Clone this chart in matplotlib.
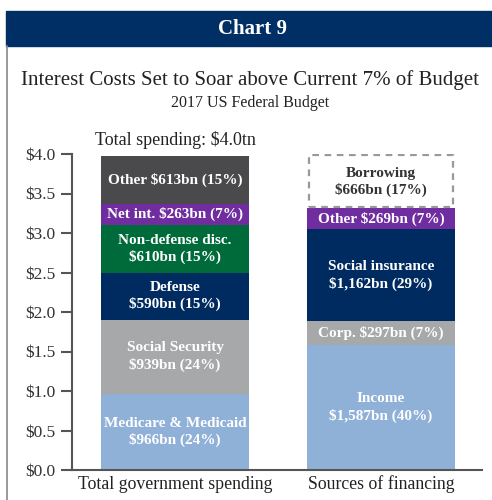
import matplotlib.pyplot as plt
from matplotlib.patches import Rectangle

plt.rcParams['font.family'] = ['Liberation Serif', 'DejaVu Serif']

# spending side, bottom to top ($tn)
spend_labels = ['Medicare & Medicaid\n$966bn (24%)', 'Social Security\n$939bn (24%)',
                'Defense\n$590bn (15%)', 'Non-defense disc.\n$610bn (15%)',
                'Net int. $263bn (7%)', 'Other $613bn (15%)']
spend_vals = [0.966, 0.939, 0.590, 0.610, 0.263, 0.613]
spend_cols = ['#8fb0d7', '#a7a8aa', '#002b60', '#006b3a', '#6f2da0', '#4a4a4c']

# financing side, bottom to top ($tn)
fin_labels = ['Income\n$1,587bn (40%)', 'Corp. $297bn (7%)',
              'Social insurance\n$1,162bn (29%)', 'Other $269bn (7%)']
fin_vals = [1.587, 0.297, 1.162, 0.269]
fin_cols = ['#8fb0d7', '#a7a8aa', '#002b60', '#6f2da0']
borrow_label = 'Borrowing\n$666bn (17%)'
borrow_val = 0.666

categories = ['Total government spending', 'Sources of financing']
yticks = [0, 0.5, 1.0, 1.5, 2.0, 2.5, 3.0, 3.5, 4.0]

fig = plt.figure(figsize=(4.92, 5), dpi=100)

# header band and frame line
fig.patches.append(Rectangle((6/492, 1-46/500), 1, 35/500, transform=fig.transFigure,
                             color='#002f66', zorder=0))
fig.add_artist(plt.Line2D([7/492, 7/492], [0, 1-46/500], transform=fig.transFigure,
                          color='#888888', lw=1.2))
fig.text(252/492, 1-29/500, 'Chart 9', color='white', fontsize=15, fontweight='bold',
         ha='center', va='center')
fig.text(250/492, 1-80/500, 'Interest Costs Set to Soar above Current 7% of Budget',
         fontsize=15, ha='center', va='center', color='#222222')
fig.text(250/492, 1-103/500, '2017 US Federal Budget', fontsize=11.5,
         ha='center', va='center', color='#222222')

ax = fig.add_axes([72/492, 30/500, 410/492, 316/500])
w = 0.72

bottom = 0
for v, c, lab in zip(spend_vals, spend_cols, spend_labels):
    ax.bar(0, v, w, bottom=bottom, color=c, edgecolor='none')
    ax.text(0, bottom + v/2, lab, ha='center', va='center', color='white',
            fontsize=11, fontweight='bold', linespacing=1.3)
    bottom += v

bottom = 0
for v, c, lab in zip(fin_vals, fin_cols, fin_labels):
    ax.bar(1, v, w, bottom=bottom, color=c, edgecolor='none')
    ax.text(1, bottom + v/2, lab, ha='center', va='center', color='white',
            fontsize=11, fontweight='bold', linespacing=1.3)
    bottom += v
ax.bar(1, borrow_val, w - 0.02, bottom=bottom + 0.01, color='white', edgecolor='#999999',
       linestyle=(0, (3, 2.5)), lw=1.6)
ax.text(1, bottom + borrow_val/2, borrow_label, ha='center', va='center', color='#333333',
        fontsize=11, fontweight='bold', linespacing=1.3)

ax.text(0, sum(spend_vals) + 0.2, 'Total spending: $4.0tn', ha='center', va='center',
        fontsize=13, color='#222222', clip_on=False)

ax.set_xlim(-0.5, 1.49)
ax.set_ylim(0, 4.0)
ax.set_yticks(yticks)
ax.set_yticklabels([f'${t:.1f}' for t in yticks], fontsize=12.5, color='#333333')
ax.set_xticks([0, 1])
ax.set_xticklabels(categories, fontsize=12.8, color='#222222')
ax.tick_params(axis='x', length=0, pad=4)
ax.tick_params(axis='y', length=8, width=1.5, color='#555555', pad=4)
for s in ['top', 'right']:
    ax.spines[s].set_visible(False)
for s in ['left', 'bottom']:
    ax.spines[s].set_color('#555555')
    ax.spines[s].set_linewidth(1.5)

fig.savefig('out.png', dpi=100)
